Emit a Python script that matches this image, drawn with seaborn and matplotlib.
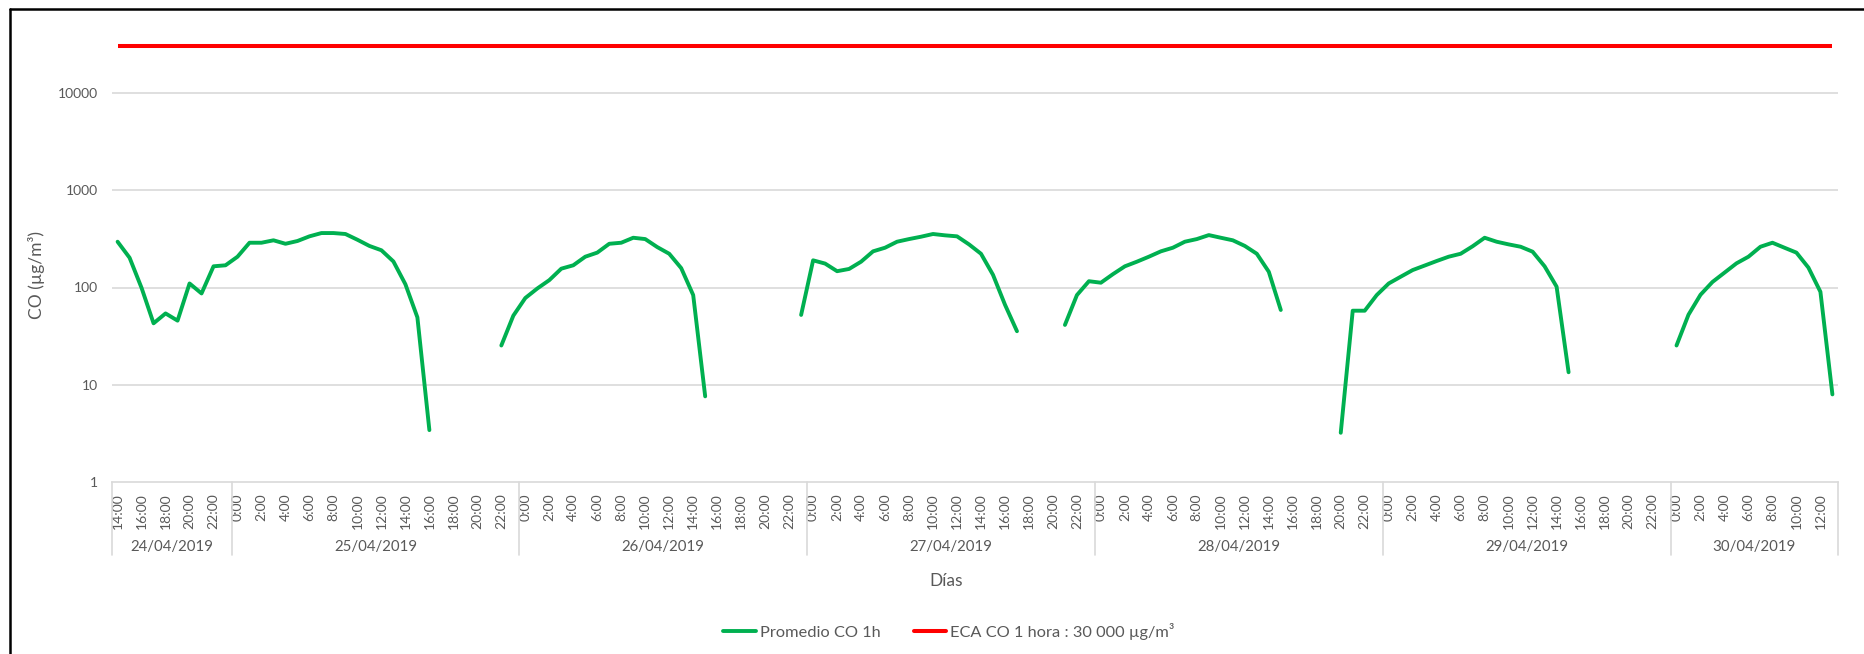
import numpy as np
import pandas as pd
import matplotlib
matplotlib.use("Agg")
import matplotlib.pyplot as plt
from matplotlib.lines import Line2D
import seaborn as sns

# ---------------- data ----------------
dates = ["24/04/2019", "25/04/2019", "26/04/2019", "27/04/2019",
         "28/04/2019", "29/04/2019", "30/04/2019"]
hours_per_day = [10, 24, 24, 24, 24, 24, 14]
start_hour = 14
nan = np.nan
co_1h = [
    295, 202, 99, 42.9, 54.2, 45.7, 110, 86.9, 165, 169, 207, 288, 288, 305,
    281, 300, 335, 362, 362, 354, 309, 267, 241, 185, 108, 49.4, 3.44,
    nan, nan, nan, nan, nan,
    25.4, 51.4, 78, 97.7, 119, 156, 169, 207, 228, 281, 288, 324, 314, 260,
    222, 158, 83.6, 7.64,
    nan, nan, nan, nan, nan, nan, nan,
    52.3, 190, 176, 147, 155, 184, 235, 256, 295, 314, 332, 354, 343, 335,
    277, 222, 135, 66.6, 35.6,
    nan, nan, nan,
    41.3, 83.6, 116, 112, 137, 165, 184, 207, 235, 256, 295, 314, 345, 324,
    305, 267, 222, 145, 58.8,
    nan, nan, nan, nan,
    3.23, 57.8, 57.8, 83.6, 110, 129, 151, 168, 187, 207, 222, 265, 324, 295,
    277, 262, 233, 165, 102, 13.5,
    nan, nan, nan, nan, nan, nan, nan, nan,
    25.4, 52.6, 84.2, 114, 142, 177, 207, 262, 288, 256, 228, 160, 90.3, 8.0,
]
eca_limit = 30000
legend_labels = ["Promedio CO 1h", "ECA CO 1 hora : 30 000 µg/m³"]

# ---------------- derived tables ----------------
n = len(co_1h)
hours = [(start_hour + i) % 24 for i in range(n)]
df = pd.DataFrame({"idx": np.arange(n), "co": co_1h})
valid = df["co"].notna()
df["seg"] = (valid != valid.shift()).cumsum()
df = df[valid]
df_eca = pd.DataFrame({"idx": [0, n - 1], "co": [eca_limit, eca_limit]})

# ---------------- styling ----------------
sns.set_theme(style="white")
plt.rcParams["font.family"] = ["Lato", "DejaVu Sans"]
GREEN = "#00B050"
RED = "#FF0000"
GRAY_T = "#595959"
GRID = "#D9D9D9"

W, H = 1865, 654
fig = plt.figure(figsize=(W / 100, H / 100), dpi=100)
fig.patch.set_facecolor("white")

ax_l, ax_r, ax_b, ax_t = 111.6, 1838.4, 482.4, 10.0
ax = fig.add_axes([ax_l / W, 1 - ax_b / H, (ax_r - ax_l) / W, (ax_b - ax_t) / H])

sns.lineplot(data=df, x="idx", y="co", units="seg", estimator=None,
             color=GREEN, linewidth=2.8, ax=ax, solid_capstyle="round")
sns.lineplot(data=df_eca, x="idx", y="co", color=RED, linewidth=2.9,
             ax=ax, solid_capstyle="butt")

ax.set_yscale("log")
ax.set_ylim(1, 10 ** ((ax_b - ax_t) / 97.45))
ax.set_xlim(-0.5, n - 0.5)

yt = [1, 10, 100, 1000, 10000]
ax.set_yticks(yt)
ax.set_yticklabels([str(v) for v in yt])
ax.yaxis.set_minor_locator(matplotlib.ticker.NullLocator())
for v in yt[1:]:
    ax.axhline(v, color=GRID, lw=1.2, zorder=0)

xt = list(range(0, n, 2))
ax.set_xticks(xt)
ax.set_xticklabels([f"{hours[i]}:00" for i in xt], rotation=90)
ax.tick_params(axis="x", length=0, pad=8.0, labelsize=10, labelcolor=GRAY_T)
ax.tick_params(axis="y", length=0, pad=9.6, labelsize=10, labelcolor=GRAY_T)

for s in ["top", "right", "left"]:
    ax.spines[s].set_visible(False)
ax.spines["bottom"].set_color(GRID)
ax.spines["bottom"].set_linewidth(1.2)
ax.set_xlabel("")
ax.set_ylabel("")

# day groups
axh = ax_b - ax_t
sep_y = -(555 - ax_b) / axh
lab_y = -(546.7 - ax_b) / axh
bounds = np.concatenate([[0], np.cumsum(hours_per_day)]) - 0.5
trans = matplotlib.transforms.blended_transform_factory(ax.transData, ax.transAxes)
for b in bounds:
    ax.plot([b, b], [0, sep_y], color=GRID, lw=1.2, transform=trans, clip_on=False)
for d, a, b in zip(dates, bounds[:-1], bounds[1:]):
    ax.text((a + b) / 2, lab_y, d, transform=trans, ha="center", va="center",
            fontsize=10.8, color=GRAY_T)

# axis titles
fig.text(946 / W, 1 - 580.7 / H, "Días", ha="center", va="center",
         fontsize=12.5, color=GRAY_T)
fig.text(36.7 / W, 1 - 275 / H, "CO (µg/m³)", ha="center", va="center",
         rotation=90, fontsize=12.5, color=GRAY_T)

# legend
handles = [Line2D([], [], color=GREEN, lw=2.8), Line2D([], [], color=RED, lw=2.9)]
fig.legend(handles, legend_labels, loc="center", ncol=2, frameon=False,
           bbox_to_anchor=(949 / W, 1 - 631.7 / H), fontsize=11.8,
           handlelength=2.0, handletextpad=0.25, columnspacing=2.0,
           labelcolor=GRAY_T)

# outer chart frame (cropped at right/bottom)
fig.add_artist(Line2D([10 / W, 10 / W], [0, 1 - 9 / H], color="black", lw=1.8,
                      transform=fig.transFigure))
fig.add_artist(Line2D([10 / W, 1], [1 - 9 / H, 1 - 9 / H], color="black", lw=1.8,
                      transform=fig.transFigure))

fig.savefig("out.png", dpi=100, facecolor="white")
